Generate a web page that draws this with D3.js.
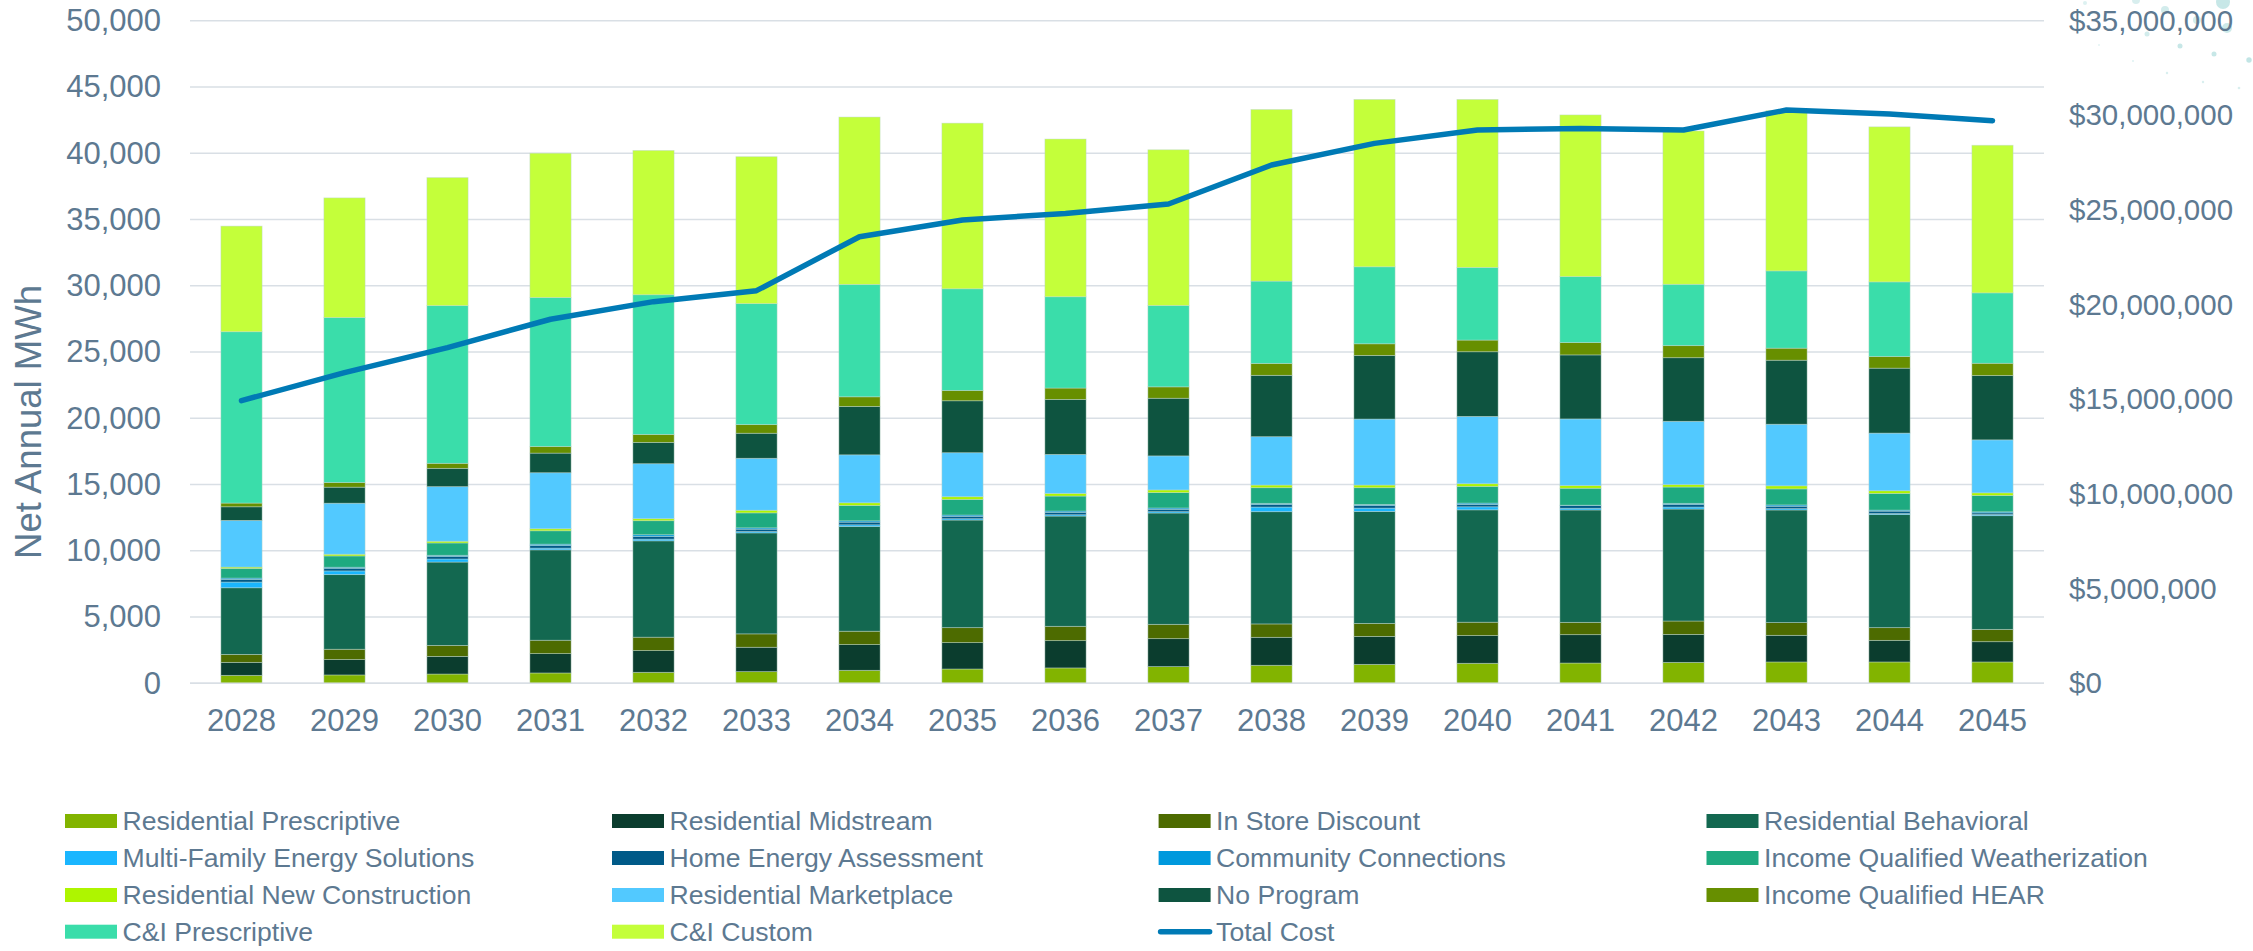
<!DOCTYPE html>
<html><head><meta charset="utf-8">
<script src="https://cdn.jsdelivr.net/npm/d3@7"></script>
<style>
body{margin:0;background:#fff}
svg{display:block}
text{font-family:"Liberation Sans",Arial,sans-serif}
</style>
</head><body>
<svg id="chart" width="2253" height="951"></svg>
<script>
// ---------- DATA ----------
const years = [2028,2029,2030,2031,2032,2033,2034,2035,2036,2037,2038,2039,2040,2041,2042,2043,2044,2045];
const residentialPrescriptive = [600,630,700,780,830,880,980,1080,1160,1260,1360,1430,1510,1530,1580,1610,1610,1610];
const residentialMidstream    = [980,1160,1330,1460,1640,1840,1940,1990,2060,2110,2110,2110,2090,2140,2110,2010,1630,1530];
const inStoreDiscount         = [600,780,830,1010,1010,1010,1010,1130,1080,1080,1010,980,1010,930,1010,960,960,930];
const residentialBehavioral   = [5030,5630,6290,6820,7270,7620,7900,8120,8320,8400,8470,8450,8480,8480,8450,8500,8530,8580];
const multiFamily             = [430,280,230,130,130,100,130,100,100,100,350,250,230,130,150,100,80,80];
const homeEnergyAssessment    = [200,200,200,200,200,180,200,180,180,180,200,200,180,200,200,180,180,130];
const communityConnections    = [100,80,80,100,130,100,100,100,100,100,80,80,100,30,80,100,80,80];
const iqWeatherization        = [730,850,930,1010,1060,1130,1160,1180,1130,1160,1180,1260,1260,1280,1230,1210,1260,1230];
const residentialNewConst     = [100,130,130,150,150,200,200,200,200,200,200,200,200,200,180,230,200,200];
const residentialMarketplace  = [3520,3850,4120,4230,4150,3920,3620,3320,2940,2570,3650,4980,5080,5030,4780,4650,4350,4000];
const noProgram               = [1030,1210,1380,1480,1610,1890,3650,3920,4150,4350,4630,4800,4880,4830,4800,4830,4900,4850];
const iqHEAR                  = [280,350,380,500,600,650,730,780,860,860,900,880,880,930,910,910,880,930];
const ciPrescriptive          = [12930,12450,11900,11240,10540,9130,8480,7670,6890,6140,6210,5810,5480,4980,4630,5830,5630,5310];
const ciCustom                = [7970,9030,9660,10890,10890,11090,12630,12500,11900,11750,12950,12630,12680,12200,11570,12090,11700,11140];
const totalCost               = [14930000,16410000,17730000,19230000,20160000,20740000,23590000,24470000,24820000,25320000,27380000,28520000,29230000,29310000,29230000,30280000,30070000,29720000];

const seriesNames = ["Residential Prescriptive","Residential Midstream","In Store Discount","Residential Behavioral",
  "Multi-Family Energy Solutions","Home Energy Assessment","Community Connections","Income Qualified Weatherization",
  "Residential New Construction","Residential Marketplace","No Program","Income Qualified HEAR",
  "C&I Prescriptive","C&I Custom"];
const seriesValues = [residentialPrescriptive,residentialMidstream,inStoreDiscount,residentialBehavioral,
  multiFamily,homeEnergyAssessment,communityConnections,iqWeatherization,
  residentialNewConst,residentialMarketplace,noProgram,iqHEAR,ciPrescriptive,ciCustom];
const seriesColors = ["#82B400","#0B3D2E","#4D6B00","#136850","#1AB6FF","#005A88","#0099DD","#1EAA80",
  "#AEF500","#52C9FF","#0E5440","#678F00","#3ADDAA","#C4FF3A"];
const lineName = "Total Cost";
const lineColor = "#007AB5";
const leftTicks = [0,5000,10000,15000,20000,25000,30000,35000,40000,45000,50000];
const rightTicks = [0,5000000,10000000,15000000,20000000,25000000,30000000,35000000];
const yTitle = "Net Annual MWh";
// decorative template dots (top-right corner): x, y, r, opacity
const decoDots = [[2223,2,7,0.5],[2227,28,5,0.45],[2165,10,4,0.4],[2136,0,4,0.35],[2197,20,4,0.4],[2147,34,2.5,0.4],
  [2180,46,2.5,0.5],[2214,54,2.5,0.5],[2249,60,2.7,0.55],[2085,3,2,0.3],[2133,61,1,0.3],[2167,73,1.2,0.35],
  [2203,82,1.2,0.35],[2239,88,1.3,0.35],[2099,45,1,0.25]];

// ---------- LAYOUT ----------
const svg = d3.select("#chart");
const plot = {left:190, right:2044, top:20.7, bottom:683.3};
const textColor = "#5D7991";

const x = d3.scaleBand().domain(years).range([plot.left, plot.right]).paddingInner(0.6).paddingOuter(0.3);
const y = d3.scaleLinear().domain([0,50000]).range([plot.bottom, plot.top]);
const y2 = d3.scaleLinear().domain([0,35000000]).range([plot.bottom, plot.top]);

// decoration
svg.append("g").selectAll("circle").data(decoDots).join("circle")
  .attr("cx",d=>d[0]).attr("cy",d=>d[1]).attr("r",d=>d[2])
  .attr("fill","#8FCFCF").attr("opacity",d=>d[3]);

// gridlines
svg.append("g").selectAll("line").data(leftTicks).join("line")
  .attr("x1",plot.left).attr("x2",plot.right)
  .attr("y1",d=>y(d)).attr("y2",d=>y(d))
  .attr("stroke","#D9DFE5").attr("stroke-width",1.5);

// left axis
const leftAxis = d3.axisLeft(y).tickValues(leftTicks).tickFormat(d3.format(",")).tickSize(0).tickPadding(29);
const gL = svg.append("g").attr("transform",`translate(${plot.left},0)`).call(leftAxis);
gL.select(".domain").remove();
gL.selectAll("text").attr("fill",textColor).style("font-size","31px").style("font-family","'Liberation Sans',Arial,sans-serif");

// right axis
const rightAxis = d3.axisRight(y2).tickValues(rightTicks).tickFormat(d=>"$"+d3.format(",")(d)).tickSize(0).tickPadding(25);
const gR = svg.append("g").attr("transform",`translate(${plot.right},0)`).call(rightAxis);
gR.select(".domain").remove();
gR.selectAll("text").attr("fill",textColor).style("font-size","29.5px").style("font-family","'Liberation Sans',Arial,sans-serif");

// x axis
const bottomAxis = d3.axisBottom(x).tickSize(0).tickPadding(26);
const gB = svg.append("g").attr("transform",`translate(0,${plot.bottom})`).call(bottomAxis);
gB.select(".domain").remove();
gB.selectAll("text").attr("fill",textColor).style("font-size","31px").style("font-family","'Liberation Sans',Arial,sans-serif");

// y title
svg.append("text").attr("transform","translate(28,422) rotate(-90)")
  .attr("text-anchor","middle").attr("dominant-baseline","central")
  .attr("fill",textColor).style("font-size","36.5px").text(yTitle);

// stacked bars
const table = years.map((yr,i)=>{ const o={year:yr}; seriesNames.forEach((n,k)=>o[n]=seriesValues[k][i]); return o; });
const stacked = d3.stack().keys(seriesNames)(table);
svg.append("g").selectAll("g").data(stacked).join("g")
  .attr("fill",(d,i)=>seriesColors[i])
  .selectAll("rect").data(d=>d).join("rect")
  .attr("x",d=>x(d.data.year)).attr("width",x.bandwidth())
  .attr("y",d=>y(d[1])).attr("height",d=>Math.max(0,y(d[0])-y(d[1])))
  .attr("stroke","rgba(190,215,205,0.55)").attr("stroke-width",0.8);

// baseline over bars
svg.append("line").attr("x1",plot.left).attr("x2",plot.right).attr("y1",y(0)).attr("y2",y(0))
  .attr("stroke","#D9DFE5").attr("stroke-width",1.5);

// line
const line = d3.line().x((d,i)=>x(years[i])+x.bandwidth()/2).y(d=>y2(d));
svg.append("path").datum(totalCost).attr("d",line)
  .attr("fill","none").attr("stroke",lineColor).attr("stroke-width",5.5)
  .attr("stroke-linejoin","round").attr("stroke-linecap","round");

// legend
const legendItems = seriesNames.map((n,i)=>({name:n,color:seriesColors[i],type:"rect"}))
  .concat([{name:lineName,color:lineColor,type:"line"}]);
const colX = [65,612,1158.6,1706.5];
const rowY = [821,858,895,931.7];
const lg = svg.append("g").selectAll("g").data(legendItems).join("g")
  .attr("transform",(d,i)=>`translate(${colX[i%4]},${rowY[Math.floor(i/4)]})`);
lg.filter(d=>d.type==="rect").append("rect").attr("x",0).attr("y",-7).attr("width",52).attr("height",14).attr("fill",d=>d.color);
lg.filter(d=>d.type==="line").append("line").attr("x1",2).attr("x2",51).attr("y1",0).attr("y2",0)
  .attr("stroke",d=>d.color).attr("stroke-width",5.5).attr("stroke-linecap","round");
lg.append("text").attr("x",57.5).attr("y",0).attr("dominant-baseline","central")
  .attr("fill",textColor).style("font-size","26.6px").text(d=>d.name);
</script>
</body></html>
